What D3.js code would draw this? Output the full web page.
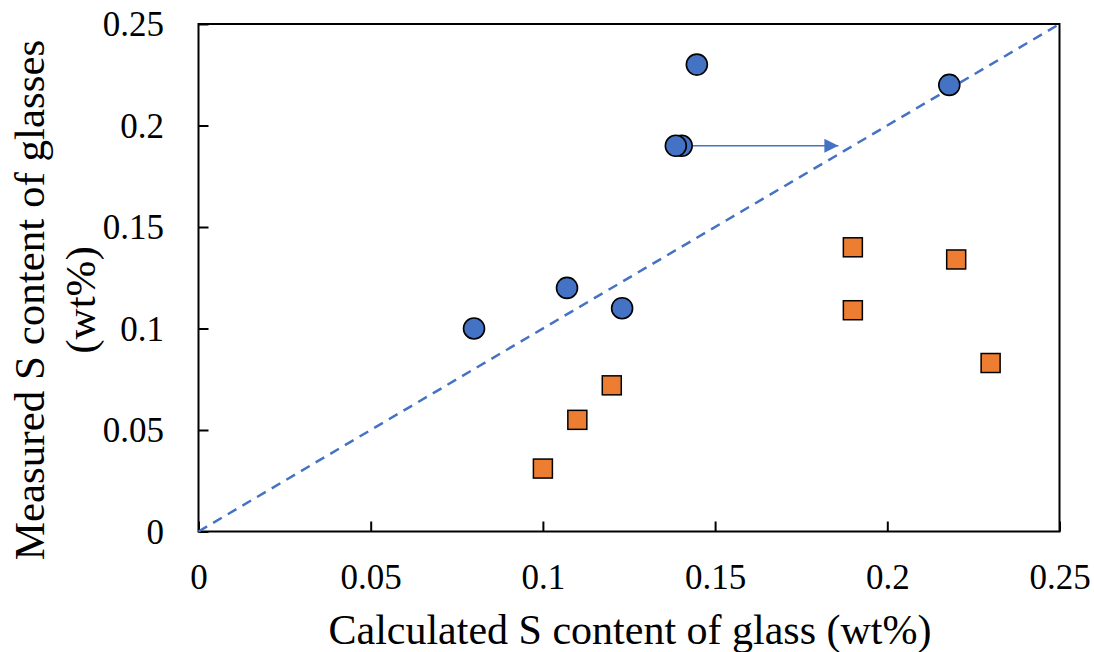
<!DOCTYPE html>
<html>
<head>
<meta charset="utf-8">
<script src="https://cdn.jsdelivr.net/npm/d3@7"></script>
<style>
  html, body { margin: 0; padding: 0; background: #fff; }
  svg { display: block; }
  text { font-family: "Liberation Serif", "Times New Roman", serif; fill: #000; }
</style>
</head>
<body>
<svg id="chart" width="1094" height="652"></svg>
<script>
// Measured vs calculated sulfur content (wt%)
const tickValues = [0, 0.05, 0.1, 0.15, 0.2, 0.25];
const tickLabels = ["0", "0.05", "0.1", "0.15", "0.2", "0.25"];

// Series 1 (blue circles)
const circleCalc = [0.080, 0.107, 0.123, 0.1403, 0.1386, 0.1447, 0.218];
const circleMeas = [0.100, 0.120, 0.110, 0.190, 0.190, 0.230, 0.220];

// Series 2 (orange squares)
const squareCalc = [0.100, 0.110, 0.120, 0.190, 0.190, 0.220, 0.230];
const squareMeas = [0.031, 0.055, 0.072, 0.140, 0.109, 0.134, 0.083];

// 1:1 reference line and shift arrow
const parityLine = [[0, 0], [0.25, 0.25]];
const arrowFrom = [0.1436, 0.19];
const arrowTo = [0.1858, 0.19];

const xTitle = "Calculated S content of glass (wt%)";
const yTitleLines = ["Measured S content of glasses", "(wt%)"];

const svg = d3.select("#chart");
const plotL = 198.5, plotR = 1059.5, plotT = 24, plotB = 531.5;

const x = d3.scaleLinear().domain([0, 0.25]).range([plotL, plotR]);
const y = d3.scaleLinear().domain([0, 0.25]).range([plotB, plotT]);

const blue = "#4472C4", orange = "#ED7D31";

// Axes with inward ticks
const fmt = d => tickLabels[tickValues.indexOf(d)];
const xAxis = svg.append("g")
  .attr("transform", `translate(0,${plotB})`)
  .call(d3.axisBottom(x).tickValues(tickValues).tickFormat(fmt)
        .tickSizeInner(-10).tickSizeOuter(0));
xAxis.select(".domain").remove();
xAxis.selectAll(".tick line").attr("stroke", "#000").attr("stroke-width", 2);
xAxis.selectAll(".tick text")
  .attr("y", 57).attr("dy", null)
  .style("font-size", "35px").style("font-family", "Liberation Serif, Times New Roman, serif");

const yAxis = svg.append("g")
  .attr("transform", `translate(${plotL},0)`)
  .call(d3.axisLeft(y).tickValues(tickValues).tickFormat(fmt)
        .tickSizeInner(-10).tickSizeOuter(0));
yAxis.select(".domain").remove();
yAxis.selectAll(".tick line").attr("stroke", "#000").attr("stroke-width", 2);
yAxis.selectAll(".tick text")
  .attr("x", -34.5).attr("dy", "0.34em")
  .style("font-size", "35px").style("font-family", "Liberation Serif, Times New Roman, serif");

// Plot frame
svg.append("rect")
  .attr("x", plotL).attr("y", plotT)
  .attr("width", plotR - plotL).attr("height", plotB - plotT)
  .attr("fill", "none").attr("stroke", "#000").attr("stroke-width", 2);

// 1:1 dashed line
svg.append("path")
  .attr("d", d3.line().x(d => x(d[0])).y(d => y(d[1]))(parityLine))
  .attr("fill", "none").attr("stroke", blue)
  .attr("stroke-width", 2.5).attr("stroke-dasharray", "10,7");

// Squares
const sq = 19;
svg.append("g").selectAll("rect")
  .data(squareCalc.map((c, i) => [c, squareMeas[i]]))
  .join("rect")
  .attr("x", d => x(d[0]) - sq / 2).attr("y", d => y(d[1]) - sq / 2)
  .attr("width", sq).attr("height", sq)
  .attr("fill", orange).attr("stroke", "#000").attr("stroke-width", 1.5);

// Circles
svg.append("g").selectAll("circle")
  .data(circleCalc.map((c, i) => [c, circleMeas[i]]))
  .join("circle")
  .attr("cx", d => x(d[0])).attr("cy", d => y(d[1]))
  .attr("r", 10.5)
  .attr("fill", blue).attr("stroke", "#000").attr("stroke-width", 1.6);

// Arrow
svg.append("defs").append("marker")
  .attr("id", "head").attr("viewBox", "0 0 10 10")
  .attr("refX", 10).attr("refY", 5)
  .attr("markerUnits", "userSpaceOnUse")
  .attr("markerWidth", 15).attr("markerHeight", 14)
  .attr("orient", "auto")
  .append("path").attr("d", "M0,0 L10,5 L0,10 Z").attr("fill", blue);

svg.append("line")
  .attr("x1", x(arrowFrom[0])).attr("y1", y(arrowFrom[1]))
  .attr("x2", x(arrowTo[0])).attr("y2", y(arrowTo[1]))
  .attr("stroke", blue).attr("stroke-width", 1.5)
  .attr("marker-end", "url(#head)");

// Axis titles
svg.append("text")
  .attr("x", (plotL + plotR) / 2 + 1).attr("y", 644)
  .attr("text-anchor", "middle")
  .style("font-size", "42px")
  .text(xTitle);

const yt = svg.append("text")
  .attr("transform", "translate(44,300) rotate(-90)")
  .attr("text-anchor", "middle")
  .style("font-size", "43px");
yTitleLines.forEach((t, i) => {
  yt.append("tspan").attr("x", 0).attr("y", i * 51).text(t);
});
</script>
</body>
</html>
